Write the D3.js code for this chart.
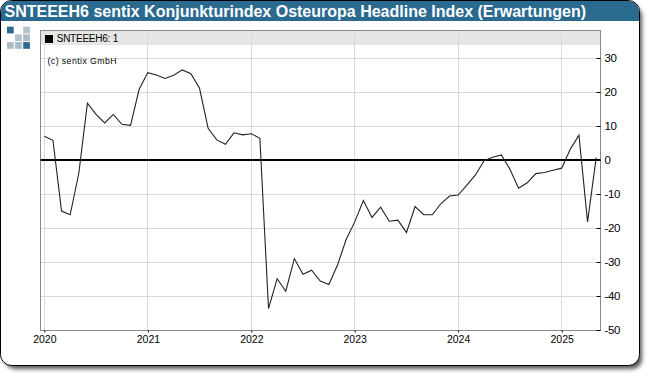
<!DOCTYPE html>
<html><head><meta charset="utf-8">
<script src="https://cdn.jsdelivr.net/npm/d3@7"></script>
<style>html,body{margin:0;padding:0;background:#fff}svg{display:block}text{font-family:"Liberation Sans",Arial,sans-serif}</style>
</head><body><svg id="c" width="650" height="376"></svg>
<script>
const titleText = "SNTEEEH6 sentix Konjunkturindex Osteuropa Headline Index (Erwartungen)";
const legendText = "SNTEEEH6: 1";
const copyrightText = "(c) sentix GmbH";
const values = [7.0,5.8,-15.0,-16.1,-3.9,16.7,13.4,10.9,13.4,10.5,10.2,20.8,
 25.7,25.0,24.0,24.9,26.5,25.4,21.1,9.3,5.9,4.6,8.0,7.4,
 7.7,6.4,-43.7,-34.9,-38.6,-29.0,-33.6,-32.4,-35.6,-36.6,-30.9,-23.4,
 -18.2,-11.9,-16.9,-13.9,-18.0,-17.7,-21.3,-13.7,-16.1,-16.1,-12.8,-10.6,
 -10.3,-7.4,-4.4,-0.2,0.8,1.5,-2.7,-8.3,-6.7,-4.0,-3.7,-3.0,
 -2.4,3.2,7.3,-18.2,0.7];
const yTicks = [30,20,10,0,-10,-20,-30,-40,-50];
const xTickYears = [2020,2021,2022,2023,2024,2025];

const svg = d3.select("#c");
const defs = svg.append("defs");
const f = defs.append("filter").attr("id","sh").attr("x","-5%").attr("y","-5%").attr("width","110%").attr("height","110%");
f.append("feGaussianBlur").attr("stdDeviation",2.2);

// shadow + panel
svg.append("rect").attr("x",5).attr("y",6).attr("width",637).attr("height",363).attr("rx",10).attr("fill","#555").attr("filter","url(#sh)");
svg.append("rect").attr("x",0.5).attr("y",0.5).attr("width",639).attr("height",365).attr("rx",11).attr("fill","#fff").attr("stroke","#000");
// title bar
const clip = defs.append("clipPath").attr("id","tb");
clip.append("rect").attr("x",1).attr("y",1).attr("width",638).attr("height",20);
svg.append("rect").attr("x",1).attr("y",1).attr("width",638).attr("height",40).attr("rx",10).attr("fill","#2a6a8e").attr("clip-path","url(#tb)");
svg.append("text").attr("x",4.5).attr("y",16.5).attr("fill","#fff").attr("font-weight","bold").attr("font-size",16).attr("textLength",581.5).attr("lengthAdjust","spacing").text(titleText);

// logo
const logoCells = [[0,0,"#2a6a8e"],[2,0,"#b4c4cf"],[1,1,"#b4c4cf"],[2,1,"#a9bcc8"],[0,2,"#a9bcc8"],[1,2,"#a9bcc8"],[2,2,"#2a6a8e"]];
svg.append("g").selectAll("rect").data(logoCells).join("rect")
  .attr("x",d=>7+d[0]*8.1).attr("y",d=>26.7+d[1]*7.7).attr("width",6.7).attr("height",6.7).attr("fill",d=>d[2]);

const L=40.5,R=600.5,T=30.5,B=330.5;
const x = d3.scaleTime().domain([new Date(2020,0,1),new Date(2025,0,1)]).range([44.3,561.7]);
const y = d3.scaleLinear().domain([-50,30]).range([330,58]);
const xi = d3.scaleLinear().domain([0,60]).range([44.3,561.7]);

svg.append("rect").attr("x",L).attr("y",T).attr("width",R-L).attr("height",14.5).attr("fill","#e6e6e6");

const grid = svg.append("g").attr("stroke","#d9d9d9").attr("stroke-width",1);
xTickYears.forEach(yr=>{const px=Math.floor(x(new Date(yr,0,1)))+0.5;
  grid.append("line").attr("x1",px).attr("x2",px).attr("y1",T).attr("y2",B);});
yTicks.forEach(v=>{const py=Math.round(y(v))+0.5;
  grid.append("line").attr("x1",L).attr("x2",R).attr("y1",py).attr("y2",py);});

svg.append("rect").attr("x",L).attr("y",T).attr("width",R-L).attr("height",B-T).attr("fill","none").attr("stroke","#8a8a8a");

// ticks & labels
const yAxis = d3.axisRight(y).tickValues(yTicks).tickSize(4).tickPadding(3).tickFormat(d=>d);
const gy = svg.append("g").attr("transform",`translate(${R-4},0)`).call(yAxis);
gy.select(".domain").remove();
gy.selectAll("line").attr("stroke","#000");
gy.selectAll("text").attr("x",8).attr("font-size",11.5).attr("letter-spacing","-0.4px").attr("fill","#000").style("font-family",'"Liberation Sans",Arial,sans-serif');

const xAxis = d3.axisBottom(x).tickValues(xTickYears.map(yr=>new Date(yr,0,1))).tickSize(2).tickPadding(3.5).tickFormat(d3.timeFormat("%Y"));
const gx = svg.append("g").attr("transform",`translate(0,${B})`).call(xAxis);
gx.select(".domain").remove();
gx.selectAll("line").attr("stroke","#000");
gx.selectAll("text").attr("font-size",10.5).attr("fill","#000").style("font-family",'"Liberation Sans",Arial,sans-serif');

// zero line
svg.append("line").attr("x1",L).attr("x2",R).attr("y1",y(0)).attr("y2",y(0)).attr("stroke","#000").attr("stroke-width",2);

// series
const line = d3.line().x((d,i)=>xi(i)).y(d=>y(d));
svg.append("path").datum(values).attr("d",line).attr("fill","none").attr("stroke","#222").attr("stroke-width",1.1);

// legend
svg.append("rect").attr("x",45).attr("y",35).attr("width",8).attr("height",8).attr("fill","#000");
svg.append("text").attr("x",56.7).attr("y",42).attr("font-size",10).attr("textLength",61.5).attr("lengthAdjust","spacing").attr("fill","#000").text(legendText);
svg.append("text").attr("x",47.5).attr("y",64).attr("font-size",8.7).attr("textLength",69).attr("lengthAdjust","spacing").attr("fill","#000").text(copyrightText);
</script></body></html>
